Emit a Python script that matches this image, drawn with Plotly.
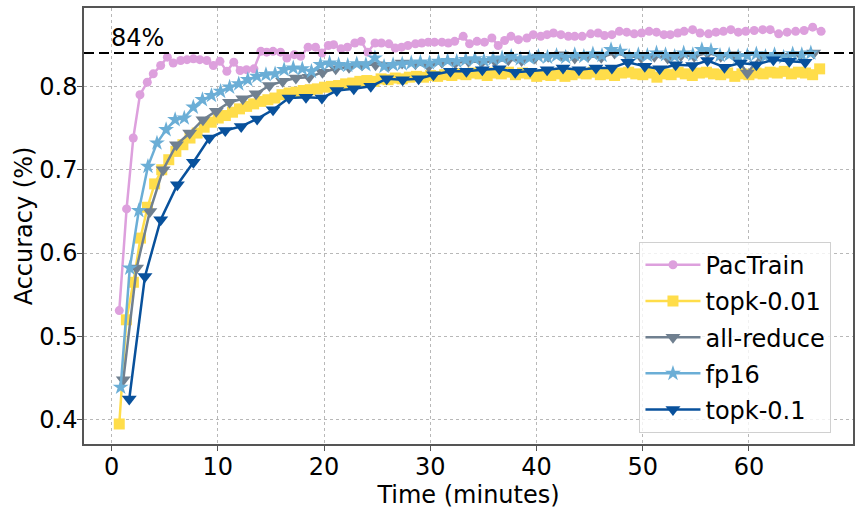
import plotly.graph_objects as go

# PacTrain (time in minutes, accuracy)
pac_t = [0.72, 1.41, 2.04, 2.67, 3.36, 3.92, 4.62, 5.25, 5.8, 6.5, 7.1, 7.7, 8.3, 8.96, 9.58,
         10.2, 10.85, 11.5, 12.1, 12.7, 13.4, 14.05, 14.6, 15.2, 15.9, 16.5, 17.2, 17.8, 18.5,
         19.2, 19.8, 20.4, 20.9, 21.6, 22.2, 22.9, 23.5, 24.1, 24.8, 25.4, 26.1, 26.7, 27.3,
         27.9, 28.6, 29.2, 29.8, 30.4, 31.1, 31.7, 32.3, 33.1, 33.7, 34.4, 35.1, 35.8, 36.4,
         37.0, 37.6, 38.3, 39.1, 39.7, 40.4, 41.0, 41.6, 42.3, 43.0, 43.6, 44.3, 45.1, 45.8,
         46.4, 47.1, 47.8, 48.5, 49.2, 49.9, 50.6, 51.3, 52.0, 52.6, 53.3, 53.9, 54.7, 55.4,
         56.2, 56.9, 57.6, 58.3, 59.0, 59.7, 60.5, 61.3, 62.0, 62.8, 63.6, 64.4, 65.2, 66.0, 66.8]
pac_acc = [0.531, 0.653, 0.738, 0.790, 0.805, 0.815, 0.825, 0.835, 0.828, 0.831, 0.832, 0.833,
           0.832, 0.831, 0.825, 0.830, 0.818, 0.829, 0.819, 0.820, 0.821, 0.842, 0.841, 0.842,
           0.841, 0.834, 0.838, 0.836, 0.847, 0.847, 0.840, 0.849, 0.850, 0.845, 0.847, 0.852,
           0.854, 0.841, 0.852, 0.852, 0.851, 0.846, 0.847, 0.849, 0.851, 0.852, 0.853, 0.853,
           0.853, 0.852, 0.854, 0.860, 0.851, 0.854, 0.853, 0.858, 0.849, 0.855, 0.860, 0.856,
           0.858, 0.862, 0.860, 0.862, 0.864, 0.862, 0.860, 0.860, 0.860, 0.863, 0.864, 0.861,
           0.862, 0.866, 0.865, 0.863, 0.864, 0.866, 0.865, 0.862, 0.862, 0.864, 0.866, 0.868,
           0.864, 0.863, 0.865, 0.866, 0.868, 0.865, 0.866, 0.867, 0.868, 0.868, 0.863, 0.865,
           0.866, 0.867, 0.871, 0.866]

# topk-0.01
top01_t = [0.72, 1.39, 2.05, 2.72, 3.38, 4.05, 4.72, 5.38, 6.05, 6.71, 7.38, 8.05, 8.71, 9.38,
           10.04, 10.71, 11.38, 12.04, 12.71, 13.37, 14.04, 14.71, 15.37, 16.04, 16.71, 17.37,
           18.04, 18.7, 19.37, 20.04, 20.7, 21.37, 22.03, 22.7, 23.37, 24.03, 24.7, 25.37, 26.03,
           26.7, 27.36, 28.03, 28.7, 29.36, 30.03, 30.69, 31.36, 32.03, 32.69, 33.36, 34.02,
           34.69, 35.36, 36.02, 36.69, 37.36, 38.02, 38.69, 39.35, 40.02, 40.69, 41.35, 42.02,
           42.68, 43.35, 44.02, 44.68, 45.35, 46.01, 46.68, 47.35, 48.01, 48.68, 49.35, 50.01,
           50.68, 51.34, 52.01, 52.68, 53.34, 54.01, 54.67, 55.34, 56.01, 56.67, 57.34, 58.0,
           58.67, 59.34, 60.0, 60.67, 61.34, 62.0, 62.67, 63.33, 64.0, 64.66, 65.33, 66.0, 66.66]
top01_acc = [0.395, 0.520, 0.565, 0.618, 0.655, 0.683, 0.700, 0.712, 0.722, 0.730, 0.738, 0.744,
             0.751, 0.757, 0.762, 0.765, 0.769, 0.773, 0.776, 0.779, 0.782, 0.784, 0.786, 0.790,
             0.792, 0.793, 0.795, 0.796, 0.797, 0.799, 0.800, 0.801, 0.803, 0.804, 0.806, 0.807,
             0.806, 0.809, 0.808, 0.810, 0.809, 0.811, 0.812, 0.811, 0.813, 0.812, 0.814, 0.813,
             0.815, 0.814, 0.816, 0.815, 0.813, 0.816, 0.815, 0.817, 0.814, 0.816, 0.815, 0.812,
             0.814, 0.813, 0.815, 0.812, 0.814, 0.816, 0.815, 0.817, 0.814, 0.815, 0.813, 0.816,
             0.817, 0.815, 0.814, 0.816, 0.811, 0.815, 0.814, 0.817, 0.815, 0.813, 0.816, 0.817,
             0.815, 0.814, 0.816, 0.812, 0.815, 0.814, 0.816, 0.815, 0.817, 0.816, 0.818, 0.815,
             0.817, 0.816, 0.814, 0.821]

# all-reduce
allred_t = [1.1, 2.35, 3.6, 4.85, 6.1, 7.35, 8.6, 9.85, 11.1, 12.35, 13.6, 14.85, 16.1, 17.35,
            18.6, 19.85, 21.1, 22.35, 23.6, 24.85, 26.1, 27.35, 28.6, 29.85, 31.1, 32.35, 33.6,
            34.85, 36.1, 37.35, 38.6, 39.85, 41.1, 42.35, 43.6, 44.85, 46.1, 47.35, 48.6, 49.85,
            51.1, 52.35, 53.6, 54.85, 56.1, 57.35, 58.6, 59.85, 61.1, 62.35, 63.6, 64.85, 66.1]
allred_acc = [0.448, 0.582, 0.650, 0.700, 0.730, 0.744, 0.760, 0.770, 0.781, 0.785, 0.791, 0.801,
              0.806, 0.810, 0.811, 0.817, 0.821, 0.823, 0.826, 0.826, 0.825, 0.828, 0.827, 0.824,
              0.829, 0.828, 0.830, 0.829, 0.830, 0.832, 0.831, 0.834, 0.836, 0.838, 0.834, 0.836,
              0.835, 0.840, 0.836, 0.835, 0.836, 0.834, 0.837, 0.836, 0.840, 0.836, 0.838, 0.816,
              0.836, 0.837, 0.836, 0.838, 0.840]

# fp16
fp16_t = [0.85, 1.71, 2.56, 3.42, 4.27, 5.13, 5.98, 6.84, 7.69, 8.55, 9.4, 10.26, 11.11, 11.97,
          12.82, 13.68, 14.53, 15.39, 16.24, 17.1, 17.95, 18.81, 19.66, 20.52, 21.37, 22.23,
          23.08, 23.94, 24.79, 25.65, 26.5, 27.36, 28.21, 29.07, 29.92, 30.78, 31.63, 32.49,
          33.34, 34.2, 35.05, 35.91, 36.76, 37.62, 38.47, 39.33, 40.18, 41.04, 41.89, 42.75,
          43.6, 44.46, 45.31, 46.17, 47.02, 47.88, 48.73, 49.59, 50.44, 51.3, 52.15, 53.01,
          53.86, 54.72, 55.57, 56.43, 57.28, 58.14, 58.99, 59.85, 60.7, 61.56, 62.41, 63.27,
          64.12, 64.98, 65.83]
fp16_acc = [0.439, 0.582, 0.651, 0.704, 0.732, 0.748, 0.760, 0.762, 0.775, 0.784, 0.789, 0.794,
            0.799, 0.803, 0.808, 0.812, 0.814, 0.815, 0.820, 0.822, 0.821, 0.818, 0.826, 0.828,
            0.826, 0.825, 0.827, 0.826, 0.834, 0.824, 0.826, 0.827, 0.828, 0.829, 0.828, 0.830,
            0.831, 0.830, 0.832, 0.833, 0.831, 0.833, 0.834, 0.836, 0.833, 0.834, 0.836, 0.835,
            0.837, 0.835, 0.838, 0.836, 0.839, 0.837, 0.844, 0.842, 0.836, 0.838, 0.837, 0.840,
            0.838, 0.836, 0.840, 0.838, 0.844, 0.843, 0.837, 0.838, 0.836, 0.837, 0.839, 0.836,
            0.838, 0.835, 0.839, 0.838, 0.840]

# topk-0.1
top1_t = [1.66, 3.14, 4.62, 6.19, 7.7, 9.2, 10.7, 12.2, 13.7, 15.2, 16.7, 18.3, 19.8, 21.2,
          22.8, 24.4, 25.9, 27.4, 28.9, 30.3, 31.9, 33.4, 34.9, 36.5, 38.0, 39.4, 41.0, 42.5,
          44.0, 45.6, 47.1, 48.6, 50.2, 51.6, 53.1, 54.7, 56.1, 57.7, 59.2, 60.7, 62.3, 63.8, 65.3]
top1_acc = [0.425, 0.572, 0.640, 0.682, 0.709, 0.738, 0.747, 0.752, 0.761, 0.772, 0.786, 0.787,
            0.786, 0.795, 0.797, 0.800, 0.809, 0.808, 0.809, 0.814, 0.818, 0.818, 0.820, 0.821,
            0.817, 0.818, 0.820, 0.822, 0.820, 0.822, 0.822, 0.829, 0.824, 0.821, 0.826, 0.825,
            0.831, 0.823, 0.828, 0.826, 0.832, 0.830, 0.829]

target_acc = 0.84
x_ticks = [0, 10, 20, 30, 40, 50, 60]
y_ticks = [0.4, 0.5, 0.6, 0.7, 0.8]

FONT = "DejaVu Sans"
FS = 24

series = [
    ("PacTrain", pac_t, pac_acc, "#DDA0DD", "circle", 9),
    ("topk-0.01", top01_t, top01_acc, "#FFDD4A", "square", 11),
    ("all-reduce", allred_t, allred_acc, "#708090", "triangle-down", 13),
    ("fp16", fp16_t, fp16_acc, "#6BAED6", "star", 12),
    ("topk-0.1", top1_t, top1_acc, "#08519C", "triangle-down", 13),
]

fig = go.Figure()
for name, t, acc, color, symbol, size in series:
    fig.add_trace(go.Scatter(
        x=t, y=acc, name=name, mode="lines+markers",
        legendgroup=name,
        line=dict(color=color, width=2.5),
        marker=dict(symbol=symbol, size=size, color=color, line=dict(width=0)),
    ))

# 84% target line
fig.add_hline(y=target_acc, line=dict(color="black", width=2.2, dash="10px,5px"))
fig.add_annotation(x=0, y=target_acc, xref="x", yref="y", text="84%", showarrow=False,
                   xanchor="left", yanchor="bottom", xshift=-3, yshift=-1,
                   font=dict(family=FONT, size=FS, color="black"))

axis_style = dict(
    showline=True, linecolor="#555555", linewidth=1.5, mirror=True,
    ticks="outside", ticklen=5, tickwidth=1.2, tickcolor="#555555",
    showgrid=True, gridcolor="#b8b8b8", gridwidth=0.8, griddash="dot",
    zeroline=False, automargin=False,
    tickfont=dict(family=FONT, size=FS, color="black"),
)

fig.update_xaxes(range=[-2.6, 69.8], tickvals=x_ticks, ticklabelstandoff=-5,
                 title=dict(text="Time (minutes)", standoff=0,
                            font=dict(family=FONT, size=FS, color="black")),
                 **axis_style)
fig.update_yaxes(range=[0.371, 0.894], tickvals=y_ticks, ticktext=[str(v) for v in y_ticks],
                 ticklabelstandoff=-5,
                 title=dict(text="Accuracy (%)", standoff=0,
                            font=dict(family=FONT, size=FS, color="black")),
                 **axis_style)

fig.update_layout(
    width=863, height=514,
    margin=dict(l=84, r=10, t=8, b=70),
    paper_bgcolor="white", plot_bgcolor="white",
    font=dict(family=FONT, size=FS, color="black"),
    legend=dict(x=0.972, y=0.026, xanchor="right", yanchor="bottom",
                bgcolor="rgba(255,255,255,0.8)", bordercolor="#d0d0d0", borderwidth=1,
                tracegroupgap=2, itemwidth=55,
                font=dict(family=FONT, size=FS, color="black")),
    showlegend=True,
)

# drop the browser's default page margin so the figure sits at the window corner
fig.write_html("out.html", config={"displayModeBar": False},
               post_script="document.body.style.margin='0';")
